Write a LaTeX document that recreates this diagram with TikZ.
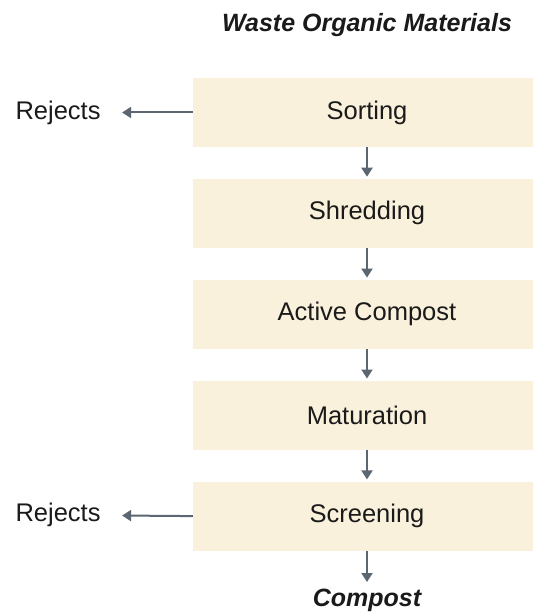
\documentclass[tikz,border=0pt]{standalone}
\usepackage{fontspec}
\setmainfont{Liberation Sans}
\usepackage{xcolor}
\usetikzlibrary{arrows.meta,positioning}
\definecolor{cream}{HTML}{FAF1DC}
\definecolor{slate}{HTML}{5B6670}
\definecolor{ink}{HTML}{1A1A1A}
\tikzset{
  stage/.style={fill=cream,minimum width=348pt,minimum height=69pt,inner sep=0pt,text=ink,font=\fontsize{25.5}{30}\selectfont},
  endlabel/.style={text=ink,font=\fontsize{25}{30}\selectfont\bfseries\itshape},
  rejlabel/.style={text=ink,font=\fontsize{25.5}{30}\selectfont,anchor=west},
  flow/.style={-{Triangle[length=9pt,width=11pt]},line width=2pt,color=slate,shorten >=2pt}
}
\begin{document}
\begin{tikzpicture}[x=1pt,y=-1pt,node distance=31.5pt]
  \useasboundingbox (0,0) rectangle (533,612);
  \clip (0,0) rectangle (533,612);
  \node[endlabel] (waste) at (367,25) {Waste Organic Materials};
  \node[stage] (sorting) at (367,112.5) {Sorting};
  \node[stage,below=of sorting] (shredding) {Shredding};
  \node[stage,below=of shredding] (active) {Active Compost};
  \node[stage,below=of active] (maturation) {Maturation};
  \node[stage,below=of maturation] (screening) {Screening};
  \node[endlabel] (compost) at (367,600) {Compost};
  \node[rejlabel] (rej1) at (12,112.5) {Rejects};
  \node[rejlabel] (rej2) at (12,515) {Rejects};
  \coordinate (out) at (367,582);
  % main flow
  \draw[flow] (sorting) -- (shredding);
  \draw[flow] (shredding) -- (active);
  \draw[flow] (active) -- (maturation);
  \draw[flow] (maturation) -- (screening);
  \draw[flow,shorten >=0pt] (screening) -- (out);
  % rejects
  \draw[flow,shorten >=18pt] (sorting.west) -- (rej1);
  \draw[flow,shorten >=18pt] (screening.west) -- (rej2);
\end{tikzpicture}
\end{document}
